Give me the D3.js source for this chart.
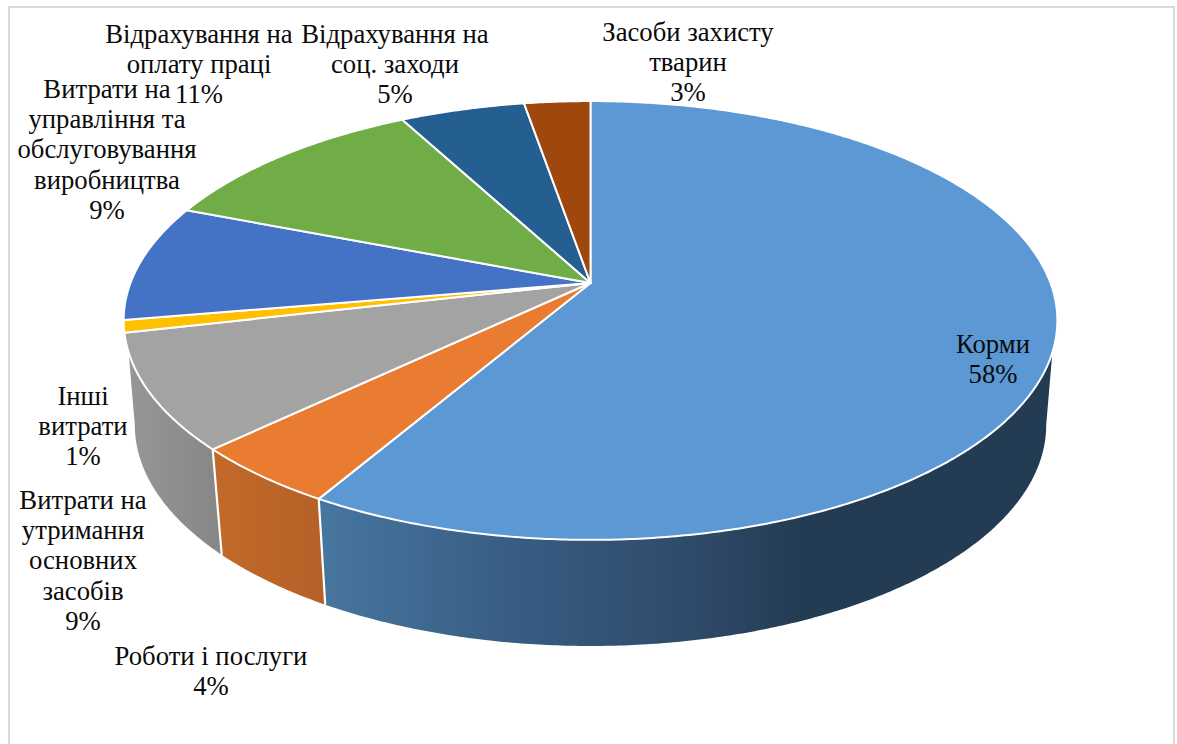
<!DOCTYPE html>
<html>
  <head>
    <meta charset="utf-8">
    <script src="https://cdnjs.cloudflare.com/ajax/libs/d3/7.8.5/d3.min.js"></script>
    <style>
      html, body { margin: 0; padding: 0; background: #fff; overflow: hidden; }
    </style>
  </head>

<body>

  <div id="chartContainer"></div>

  <script type="text/javascript">

      // slice shares (clockwise from 12 o'clock)
      var categories = ["Корми", "Роботи і послуги", "Витрати на утримання основних засобів", "Інші витрати",
        "Витрати на управління та обслуговування виробництва", "Відрахування на оплату праці",
        "Відрахування на соц. заходи", "Засоби захисту тварин"];
      var shares = [58.4, 4.5, 8.5, 0.9, 8.6, 11.3, 5.1, 2.7];
      var colors = ["#5B98D4", "#E97C30", "#A3A3A3", "#FFC000", "#4472C4", "#70AD47", "#255E91", "#9E480E"];

      // printed labels, one entry per line
      var labelLines = [
        ["Корми", "58%"],
        ["Роботи і послуги", "4%"],
        ["Витрати на", "утримання", "основних", "засобів", "9%"],
        ["Інші", "витрати", "1%"],
        ["Витрати на", "управління та", "обслуговування", "виробництва", "9%"],
        ["Відрахування на", "оплату праці", "11%"],
        ["Відрахування на", "соц. заходи", "5%"],
        ["Засоби захисту", "тварин", "3%"]
      ];
      // centre x and first baseline of each label
      var labelX = [993, 211, 83, 83, 107, 199, 395, 688];
      var labelY = [353, 665, 509, 405, 98, 43, 43, 41];

      var width = 1177, height = 744;

      var svg = d3.select("#chartContainer").append("svg")
        .attr("width", width)
        .attr("height", height)
        .style("display", "block");

      // chart frame, bottom edge is cropped by the page
      svg.append("rect")
        .attr("x", 9).attr("y", 7)
        .attr("width", 1165).attr("height", 770)
        .attr("fill", "#fff")
        .attr("stroke", "#d9d9d9")
        .attr("stroke-width", 2);

      // tilted disc: a circle seen in perspective, so the apex sits above the ellipse centre
      var tilt = 0.1708;
      function rim(ring, a) {
        var u = Math.sin(a), v = -Math.cos(a), w = 1 - tilt * v;
        return [ring.cx + ring.rx * u / w, ring.cy + ring.ry * v / w];
      }
      var topRing = { cx: 590.5, cy: 283, rx: 460, ry: 213 };
      var lowRing = { cx: 590.5, cy: 387.3, rx: 449, ry: 214.5 };

      function arcPoints(ring, a0, a1) {
        var n = Math.max(2, Math.ceil(Math.abs(a1 - a0) * 120));
        return d3.range(n + 1).map(function (i) { return rim(ring, a0 + (a1 - a0) * i / n); });
      }

      var line = d3.line();
      var pie = d3.pie().sort(null).value(function (d) { return d; });
      var slices = pie(shares);

      // gradients on the side walls
      var defs = svg.append("defs");
      function addGradient(id, x1, x2, stops) {
        var g = defs.append("linearGradient")
          .attr("id", id)
          .attr("gradientUnits", "userSpaceOnUse")
          .attr("x1", x1).attr("x2", x2)
          .attr("y1", 0).attr("y2", 0);
        stops.forEach(function (s) {
          g.append("stop").attr("offset", s[0]).attr("stop-color", s[1]);
        });
      }
      addGradient("wall0", 320, 800, [[0, "#47769f"], [0.45, "#365a80"], [0.8, "#2e4968"], [1, "#233b53"]]);
      addGradient("wall1", 214, 327, [[0, "#c26a2a"], [1, "#b46027"]]);
      addGradient("wall2", 127, 222, [[0, "#979797"], [1, "#868686"]]);

      // the wall only shows between the two silhouette points of the disc
      var rad = Math.PI / 180;
      var walls = [
        { slice: 0, topFrom: 108 * rad, lowFrom: 99.8 * rad, topTo: slices[0].endAngle, lowTo: slices[0].endAngle },
        { slice: 1, topFrom: slices[1].startAngle, lowFrom: slices[1].startAngle, topTo: slices[1].endAngle, lowTo: slices[1].endAngle },
        { slice: 2, topFrom: slices[2].startAngle, lowFrom: slices[2].startAngle, topTo: 252 * rad, lowTo: 260.2 * rad }
      ];

      svg.selectAll("path.wall")
        .data(walls)
        .enter()
        .append("path")
          .attr("class", "wall")
          .attr("d", function (d) {
            var pts = arcPoints(topRing, d.topFrom, d.topTo)
              .concat(arcPoints(lowRing, d.lowTo, d.lowFrom));
            return line(pts) + "Z";
          })
          .attr("fill", function (d) { return "url(#wall" + d.slice + ")"; });

      // white seams between the walls
      svg.selectAll("path.seam")
        .data([slices[0].endAngle, slices[1].endAngle])
        .enter()
        .append("path")
          .attr("class", "seam")
          .attr("d", function (a) { return line([rim(topRing, a), rim(lowRing, a)]); })
          .attr("stroke", "#fff")
          .attr("stroke-width", 2.2)
          .attr("fill", "none");

      // top face
      svg.selectAll("path.slice")
        .data(slices)
        .enter()
        .append("path")
          .attr("class", "slice")
          .attr("d", function (d) {
            return line([[topRing.cx, topRing.cy]].concat(arcPoints(topRing, d.startAngle, d.endAngle))) + "Z";
          })
          .attr("fill", function (d, i) { return colors[i]; })
          .attr("stroke", "#fff")
          .attr("stroke-width", 2)
          .attr("stroke-linejoin", "round")
          .append("title")
            .text(function (d, i) { return categories[i]; });

      // data labels
      var labels = svg.selectAll("text.label")
        .data(labelLines)
        .enter()
        .append("text")
          .attr("class", "label")
          .attr("text-anchor", "middle")
          .style("font-family", "'Liberation Serif', serif")
          .style("font-size", "26.7px")
          .attr("fill", "#0a0a0a");

      labels.each(function (lines, i) {
        d3.select(this).selectAll("tspan")
          .data(lines)
          .enter()
          .append("tspan")
            .attr("x", labelX[i])
            .attr("y", function (d, j) { return labelY[i] + j * 30.2; })
            .text(function (d) { return d; });
      });

  </script>

</body>
</html>
